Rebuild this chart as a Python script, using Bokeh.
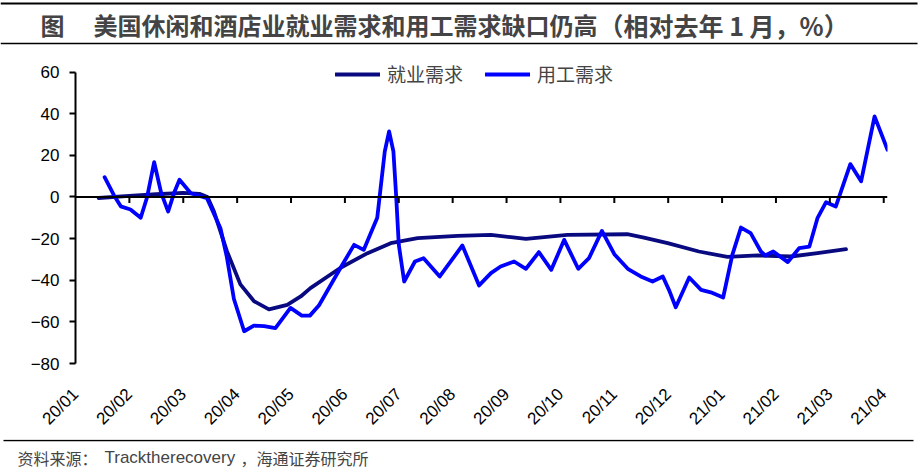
import math
from bokeh.plotting import figure
from bokeh.models import (Range1d, FixedTicker, Legend, LegendItem, Span, Label, BoxAnnotation)
from bokeh.embed import file_html
from bokeh.resources import INLINE

# ---------------- data ----------------
month_labels = ["20/01", "20/02", "20/03", "20/04", "20/05", "20/06", "20/07", "20/08",
                "20/09", "20/10", "20/11", "20/12", "21/01", "21/02", "21/03", "21/04"]
month_pos = list(range(len(month_labels)))

y_ticks = [-80, -60, -40, -20, 0, 20, 40, 60]

# 就业需求 (employment demand), x in months since 20/01
emp_x = [0.43, 1.0, 1.5, 2.0, 2.3, 2.45, 2.57, 2.81, 3.06, 3.31, 3.59, 3.93, 4.18, 4.36,
         4.92, 5.42, 5.85, 6.35, 7.09, 7.71, 8.08, 8.36, 9.13, 10.24, 10.55, 10.99,
         11.57, 12.1, 12.66, 13.28, 13.77, 14.3]
emp_y = [-0.5, 0.5, 1.3, 2.0, 1.5, 0.0, -7, -26, -42, -50, -54, -51.8, -47.8, -43.8,
         -34, -27, -22.2, -19.8, -18.7, -18.2, -19.3, -20.1, -18.2, -17.9, -19.5, -22.2,
         -26.2, -28.8, -28.1, -28.6, -27, -25.1]

# 用工需求 (hiring demand)
hire_x = [0.54, 0.71, 0.84, 1.02, 1.21, 1.33, 1.46, 1.59, 1.72, 1.83, 1.93, 2.14, 2.44,
          2.69, 2.81, 2.94, 3.13, 3.31, 3.5, 3.71, 3.99, 4.2, 4.35, 4.52, 4.72, 4.92,
          5.17, 5.35, 5.6, 5.74, 5.82, 5.9, 5.95, 6.0, 6.1, 6.3, 6.46, 6.76, 7.18, 7.49,
          7.71, 7.89, 8.14, 8.36, 8.6, 8.83, 9.07, 9.33, 9.53, 9.77, 10.0, 10.25, 10.49,
          10.71, 10.9, 11.02, 11.14, 11.39, 11.61, 11.79, 12.02, 12.19, 12.35, 12.53,
          12.72, 12.8, 12.95, 13.22, 13.43, 13.62, 13.77, 13.93, 14.11, 14.38, 14.58,
          14.83, 15.07]
hire_y = [9.5, 1, -4.5, -6, -10, 0, 16.7, 2, -7, 2, 8.3, 1.8, -0.6,
          -15, -29, -49, -64.5, -61.8, -62, -63, -53.3, -57, -57, -52, -43, -34,
          -23, -25.4, -10, 21.9, 31.5, 21.9, 1, -23, -40.6, -31, -29.4, -38.2, -23.3, -42.5,
          -36.6, -33.4, -31, -34.5, -26.5, -35, -20.6, -34.5, -29.4, -16.3, -27.5, -34.5, -38.2,
          -40.6, -38.2, -45, -53, -38.7, -44.6, -45.8, -48.3, -27.8, -14.7, -17.4,
          -26.2, -28.1, -26.2, -31.3, -24.6, -23.8, -10.2, -2.5, -4.6, 15.8, 7.5,
          38.7, 22.7]

title_fig = "图"
title_main = "美国休闲和酒店业就业需求和用工需求缺口仍高"
title_paren = "（相对去年 1 月，%）"
legend_emp = "就业需求"
legend_hire = "用工需求"
src_a = "资料来源："
src_b = "Tracktherecovery"
src_c = "，海通证券研究所"

CJK = "Noto Sans CJK SC"
LAT = "Liberation Sans"
W = 920
HDR_H, MAIN_H, FTR_H = 46, 393, 31
NAVY = "#0a0a80"
BLUE = "#0000ff"


def blank(h):
    f = figure(width=W, height=h, x_range=Range1d(0, W), y_range=Range1d(0, h),
               output_backend="svg", toolbar_location=None, title=None, min_border=0,
               min_border_left=0, min_border_right=0, min_border_top=0, min_border_bottom=0,
               x_axis_location=None, y_axis_location=None)
    f.grid.visible = False
    f.outline_line_color = None
    return f


def rule(fig, y_from_top, left=None, right=None, thick=1.5):
    h = fig.height
    fig.add_layout(BoxAnnotation(left=left, right=right,
                                 bottom=h - y_from_top - thick / 2,
                                 top=h - y_from_top + thick / 2,
                                 fill_color="black", fill_alpha=1, line_color=None,
                                 line_alpha=0))


# ---------------- header ----------------
hdr = blank(HDR_H)
rule(hdr, 3, 0, 917, thick=2)
rule(hdr, 43, 0, 917)
hdr.add_layout(Label(x=52, y=HDR_H - 24, text=title_fig, text_font=CJK, text_font_size="24px",
                     text_font_style="bold", text_align="center", text_baseline="middle"))
hdr.add_layout(Label(x=93, y=HDR_H - 24, text=title_main, text_font=CJK, text_font_size="24px",
                     text_font_style="bold", text_align="left", text_baseline="middle"))
hdr.add_layout(Label(x=598, y=HDR_H - 24, text=title_paren, text_font=CJK, text_font_size="25px",
                     text_font_style="bold", text_align="left", text_baseline="middle"))

# ---------------- main chart ----------------
p = figure(width=W, height=MAIN_H, x_range=Range1d(0, 15.07), y_range=Range1d(-80, 67),
           output_backend="svg", toolbar_location=None,
           min_border_left=75, min_border_right=W - 887, min_border_top=11,
           min_border_bottom=MAIN_H - (363 - HDR_H))
p.grid.visible = False
p.outline_line_color = None

r_emp = p.line(emp_x, emp_y, line_color=NAVY, line_width=3.8, line_join="round", line_cap="round")
r_hire = p.line(hire_x, hire_y, line_color=BLUE, line_width=3.8, line_join="round", line_cap="round")

p.add_layout(Span(location=0, dimension="width", line_color="black", line_width=2))
p.ray(x=month_pos[1:], y=[0] * (len(month_pos) - 1), length=6, length_units="screen",
      angle=-math.pi / 2, line_color="black", line_width=2)

p.yaxis.ticker = FixedTicker(ticks=y_ticks)
p.yaxis.bounds = (-80, 60)
p.yaxis.axis_line_color = "black"
p.yaxis.axis_line_width = 2
p.yaxis.major_tick_out = 6
p.yaxis.major_tick_in = 0
p.yaxis.major_tick_line_width = 2
p.yaxis.minor_tick_line_color = None
p.yaxis.major_label_standoff = 10
p.yaxis.major_label_text_font = LAT
p.yaxis.major_label_text_font_size = "17px"
p.yaxis.major_label_text_color = "black"

p.xaxis.ticker = FixedTicker(ticks=month_pos)
p.xaxis.major_label_overrides = {i: s for i, s in zip(month_pos, month_labels)}
p.xaxis.axis_line_color = None
p.xaxis.major_tick_line_color = None
p.xaxis.minor_tick_line_color = None
p.xaxis.major_label_orientation = math.pi / 4
p.xaxis.major_label_standoff = 22
p.xaxis.major_label_text_font = LAT
p.xaxis.major_label_text_font_size = "17px"
p.xaxis.major_label_text_color = "black"

legend = Legend(items=[LegendItem(label=legend_emp, renderers=[r_emp]),
                       LegendItem(label=legend_hire, renderers=[r_hire])],
                orientation="horizontal", location=(260, 276),
                label_text_font=CJK, label_text_font_size="19px",
                glyph_width=45, glyph_height=20, label_height=20, label_standoff=7,
                spacing=22, padding=0, margin=0,
                border_line_color=None, background_fill_alpha=0)
p.add_layout(legend)

# ---------------- footer ----------------
ftr = blank(FTR_H)
rule(ftr, 1, 3, 913)
ftr.add_layout(Label(x=17, y=FTR_H - 18, text=src_a, text_font=CJK, text_font_size="16px",
                     text_baseline="middle"))
ftr.add_layout(Label(x=104, y=FTR_H - 18, text=src_b, text_font=LAT, text_font_size="17px",
                     text_baseline="middle"))
ftr.add_layout(Label(x=240, y=FTR_H - 18, text=src_c, text_font=CJK, text_font_size="16px",
                     text_baseline="middle"))

open("out.html", "w").write(file_html([hdr, p, ftr], INLINE))
